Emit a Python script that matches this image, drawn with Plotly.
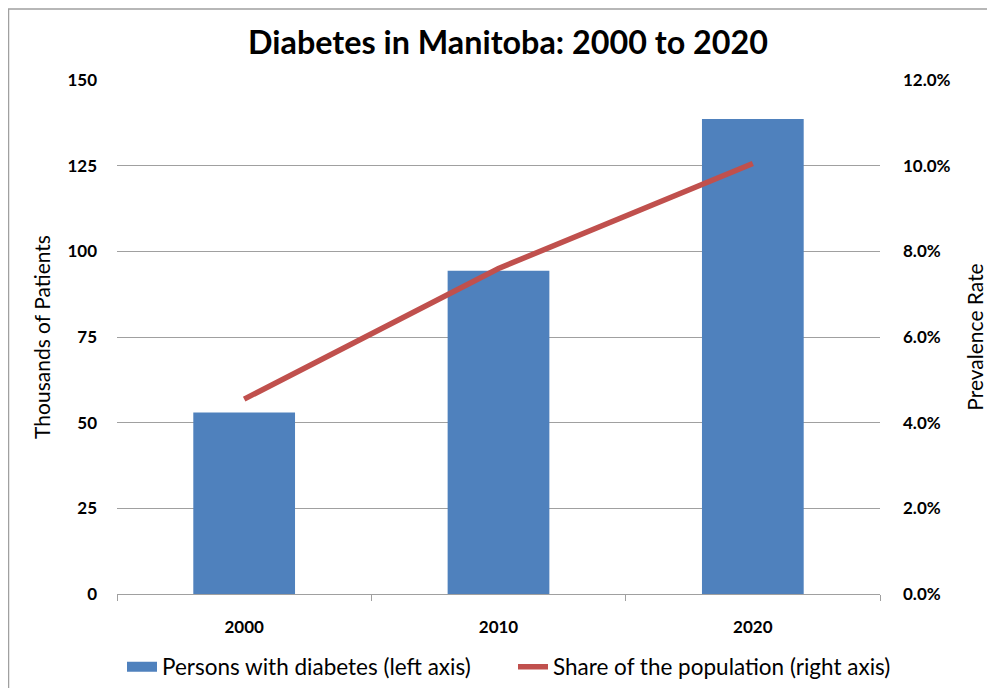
import plotly.graph_objects as go

years = ["2000", "2010", "2020"]
patients_thousands = [53.0, 94.3, 138.6]
prevalence_pct = [4.55, 7.6, 10.05]
left_ticks = [0, 25, 50, 75, 100, 125, 150]
right_ticks = [0, 2, 4, 6, 8, 10, 12]
right_tick_labels = ["0.0%", "2.0%", "4.0%", "6.0%", "8.0%", "10.0%", "12.0%"]

FONT = "Lato"
BAR_COLOR = "#4F81BD"
LINE_COLOR = "#C0504D"

# page body has an 8px margin; figure coordinates compensate for it
ML, MT = 109, 72
PW, PH = 763, 514

fig = go.Figure()
fig.add_trace(go.Bar(
    x=years, y=patients_thousands, name="Persons with diabetes (left axis)",
    marker=dict(color=BAR_COLOR, line=dict(width=0)), yaxis="y", width=0.4,
    showlegend=False,
))
# legend-only entry so the key is a wide rectangle like the original
fig.add_trace(go.Scatter(
    x=[None], y=[None], name="Persons with diabetes (left axis)", mode="lines",
    line=dict(color=BAR_COLOR, width=11), yaxis="y", legend="legend",
))
fig.add_trace(go.Scatter(
    x=years, y=prevalence_pct, name="Share of the population (right axis)",
    mode="lines", line=dict(color=LINE_COLOR, width=5.5), yaxis="y2", legend="legend2",
))

leg_common = dict(orientation="h", y=-73 / PH, yanchor="middle", xanchor="left",
                  font=dict(size=22.5, family=FONT), itemwidth=30,
                  bgcolor="rgba(0,0,0,0)")

fig.update_layout(
    width=995, height=688,
    margin=dict(l=ML, r=995 - ML - PW, t=MT, b=688 - MT - PH, autoexpand=False),
    paper_bgcolor="white", plot_bgcolor="white",
    font=dict(family=FONT, color="black"),
    title=dict(text="<b>Diabetes in Manitoba: 2000 to 2020</b>", x=0.5025, xanchor="center",
               y=1 - 35 / 688, yanchor="middle", font=dict(size=32.3, family=FONT)),
    showlegend=True,
    legend=dict(x=(114 - ML) / PW, **leg_common),
    legend2=dict(x=(505 - ML) / PW, **leg_common),
    xaxis=dict(type="category", showgrid=False, showline=True, linecolor="#A0A0A0", linewidth=1,
               ticks="outside", tickson="boundaries", ticklen=6, tickcolor="#A0A0A0",
               tickfont=dict(size=17, family=FONT, weight="bold"), ticklabelstandoff=18),
    yaxis=dict(range=[0, 150], tickvals=left_ticks, showgrid=True, gridcolor="#A0A0A0", gridwidth=1,
               zeroline=False, showline=False, ticks="",
               tickfont=dict(size=17, family=FONT, weight="bold"),
               ticklabelstandoff=19,
               title=dict(text="Thousands of Patients", font=dict(size=21, family=FONT), standoff=11)),
    yaxis2=dict(range=[0, 12], tickvals=right_ticks, ticktext=right_tick_labels, overlaying="y",
                side="right", showgrid=False, zeroline=False, showline=False, ticks="",
                tickfont=dict(size=17, family=FONT, weight="bold"), ticklabelstandoff=22,
                title=dict(text="Prevalence Rate", font=dict(size=21, family=FONT), standoff=18)),
    shapes=[dict(type="rect", xref="paper", yref="paper",
                 x0=-(ML - 0.5) / PW, x1=1.3, y0=-0.3, y1=1 + (MT - 1) / PH,
                 line=dict(color="#A0A0A0", width=1.5), fillcolor="rgba(0,0,0,0)", layer="below")],
)

fig.write_html("out.html")
